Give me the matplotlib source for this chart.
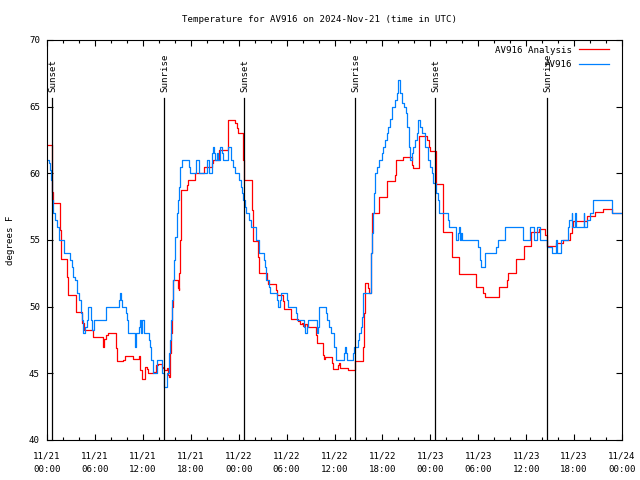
import numpy as np
import matplotlib
matplotlib.use("Agg")
import matplotlib.pyplot as plt

# ── Data (hours since 2024-11-21 00:00 UTC, degrees F) ───────────────────────
obs_hours = [0.0, 0.21, 0.38, 0.5, 0.63, 0.79, 1.04, 1.21, 1.54, 2.17, 2.88,
             3.09, 3.3, 3.5, 3.8, 4.05, 4.21, 4.38, 4.55, 4.76, 4.97, 5.18,
             5.47, 5.68, 5.89, 7.39, 8.97, 9.14, 9.27, 9.39, 9.89, 10.06,
             10.18, 11.06, 11.15, 11.48, 11.64, 11.77, 11.9, 12.15, 12.73,
             12.9, 13.06, 13.23, 13.81, 14.4, 14.65, 15.05, 15.3, 15.4, 15.53,
             15.65, 15.82, 15.95, 16.07, 16.24, 16.36, 16.49, 16.65, 16.86,
             17.82, 17.9, 18.62, 19.08, 20.0, 20.33, 20.62, 20.83, 20.95,
             21.04, 21.25, 21.45, 21.66, 21.87, 22.08, 22.62, 23.08, 23.33,
             23.54, 24.08, 24.29, 24.46, 24.58, 24.79, 24.92, 25.33, 25.51,
             26.13, 26.55, 27.21, 27.34, 27.46, 27.84, 27.96, 28.84, 28.93,
             29.18, 29.3, 30.01, 30.14, 31.14, 31.27, 32.22, 32.35, 32.52,
             32.64, 33.77, 33.89, 34.02, 34.1, 34.94, 35.1, 35.35, 35.53,
             35.94, 36.15, 37.23, 37.35, 37.47, 37.6, 38.3, 38.48, 38.98,
             39.11, 39.28, 39.4, 39.53, 39.61, 40.53, 40.61, 40.7, 40.78,
             40.95, 41.11, 41.28, 41.61, 41.9, 42.11, 42.32, 42.53, 42.74,
             42.95, 43.2, 43.58, 43.79, 43.99, 44.2, 44.49, 44.7, 44.92,
             45.04, 45.37, 45.49, 45.71, 45.87, 46.08, 46.29, 46.5, 46.71,
             46.92, 47.33, 47.75, 47.96, 48.16, 48.37, 48.71, 48.92, 49.12,
             50.17, 50.3, 51.22, 51.5, 51.6, 51.71, 51.8, 51.92, 54.0, 54.22,
             54.3, 54.85, 56.22, 56.43, 57.35, 59.56, 60.48, 60.98, 61.32,
             61.73, 62.57, 63.2, 63.74, 63.85, 64.33, 65.2, 65.4, 65.7, 65.8,
             66.1, 66.2, 67.2, 67.3, 67.6, 68.0, 68.33, 70.7, 72.0]
obs_temp = [61.0, 60.75, 60.25, 59.5, 58.0, 57.0, 56.5, 56.0, 55.0, 54.0, 53.5,
            53.0, 52.25, 52.0, 51.0, 50.5, 49.5, 49.0, 48.0, 48.5, 49.0, 50.0,
            49.0, 48.25, 49.0, 50.0, 50.5, 51.0, 50.5, 50.0, 49.5, 49.0,
            48.0, 47.0, 48.0, 48.5, 49.0, 48.0, 49.0, 48.0, 47.5,
            47.0, 46.0, 45.0, 46.0, 45.0, 44.0, 45.0, 46.5, 47.5, 49.0,
            50.5, 52.0, 53.5, 55.25, 57.0, 58.0, 59.0, 60.5, 61.0,
            60.5, 60.0, 61.0, 60.0, 61.0, 60.0, 61.5, 62.0, 61.5,
            61.0, 61.5, 61.0, 62.0, 61.5, 61.0, 62.0, 61.0, 60.5,
            60.0, 59.5, 59.0, 58.5, 58.0, 57.5, 57.0, 56.5, 56.0,
            55.0, 54.0, 53.5, 53.0, 52.0, 51.5, 51.0, 50.5, 50.0,
            50.5, 51.0, 50.5, 50.0, 49.5, 49.0, 48.5, 48.0, 48.5,
            49.0, 48.0, 48.5, 49.5, 50.0, 49.5, 49.0, 48.5, 48.0,
            47.0, 46.0, 46.5, 47.0, 46.5, 46.0, 46.5, 47.0, 47.5,
            48.0, 48.5, 49.25, 50.0, 51.0, 52.5, 54.0, 55.5, 57.0,
            58.5, 60.0, 60.5, 61.0, 61.5, 62.0, 62.5, 63.0, 63.5,
            64.1, 65.0, 65.5, 66.0, 67.0, 66.0, 65.25, 65.0, 64.5,
            63.5, 62.0, 61.0, 61.5, 62.0, 62.5, 63.0, 64.0, 63.5,
            63.0, 62.0, 61.0, 60.5, 60.0, 59.25, 58.5, 58.0, 57.0,
            56.5, 56.0, 55.0, 55.5, 56.0, 55.0, 55.5, 55.0, 54.5, 53.5,
            53.0, 54.0, 54.5, 55.0, 56.0, 55.0, 56.0, 55.0, 56.0,
            55.0, 54.5, 54.0, 55.0, 54.0, 55.0, 56.0, 56.5, 57.0, 56.0,
            57.0, 56.0, 57.0, 56.0, 56.5, 57.0, 58.0, 57.0, 57.0]

ana_hours = [0.0, 0.63, 0.71, 1.63, 1.71, 2.55, 2.67, 3.63, 4.38, 4.63, 5.72,
             7.05, 7.14, 7.39, 7.68, 8.64, 8.72, 9.56, 9.72, 10.81, 11.52,
             11.65, 11.85, 12.27, 12.48, 12.69, 13.31, 13.65, 13.86, 14.36,
             14.48, 14.65, 14.99, 15.15, 15.32, 15.4, 15.49, 15.61, 15.74,
             15.82, 16.36, 16.53, 16.57, 16.65, 16.74, 17.57, 17.7, 18.53,
             19.66, 20.62, 20.83, 21.58, 22.62, 22.7, 23.58, 23.75, 23.92,
             24.58, 24.71, 25.71, 25.75, 26.46, 26.59, 27.51, 27.72, 28.63,
             28.76, 29.59, 29.72, 30.55, 31.47, 31.68, 31.89, 32.1, 32.31,
             32.52, 32.72, 33.68, 33.77, 34.52, 34.69, 34.85, 35.65, 35.85,
             36.39, 36.52, 36.69, 37.73, 38.61, 39.61, 39.69, 39.78, 39.86,
             40.15, 40.32, 40.53, 40.65, 41.61, 42.53, 43.58, 43.7, 44.53,
             45.66, 45.79, 46.58, 47.62, 47.79, 47.96, 48.71, 48.75, 49.62,
             50.67, 51.63, 53.68, 54.64, 54.85, 56.64, 57.56, 57.77, 58.73,
             59.73, 60.61, 61.65, 62.36, 62.57, 62.65, 63.74, 64.57, 65.49,
             65.7, 65.9, 67.57, 68.62, 69.66, 70.7, 72.0]
ana_temp = [62.1, 58.6, 57.75, 55.75, 53.6, 52.25, 50.9, 49.6, 48.75, 48.25, 47.75,
            47.0, 47.6, 47.9, 48.0, 46.9, 45.9, 46.0, 46.3, 46.1, 46.3,
            45.25, 44.6, 45.5, 45.3, 45.0, 45.1, 45.6, 45.7, 45.5,
            45.4, 45.25, 45.4, 44.9, 44.7, 46.5, 48.0, 50.0, 51.5,
            52.0, 51.4, 51.25, 52.5, 55.0, 58.75, 59.1, 59.5, 60.0,
            60.5, 60.75, 61.0, 61.75, 63.0, 64.0, 63.75, 63.4, 63.0,
            61.0, 59.5, 57.25, 54.9, 53.75, 52.5, 52.0, 51.7, 51.25,
            50.9, 50.4, 49.8, 49.1, 48.9, 48.7, 48.8, 48.55, 48.7,
            48.55, 48.45, 47.9, 47.25, 46.4, 46.1, 46.2, 45.75, 45.3,
            45.6, 45.8, 45.4, 45.25, 45.9, 47.0, 49.5, 51.0, 51.8,
            51.4, 51.0, 54.0, 57.0, 58.2, 59.45, 59.9, 61.0, 61.2,
            60.6, 60.4, 62.8, 62.5, 62.0, 61.7, 60.4, 59.2, 55.6,
            53.7, 52.45, 51.45, 51.0, 50.75, 51.45, 52.0, 52.55, 53.6,
            54.55, 55.6, 55.8, 55.4, 54.8, 54.55, 54.75, 55.0, 55.55,
            56.05, 56.4, 56.8, 57.1, 57.35, 57.0, 57.0]

sun_hours  = [0.63, 14.65, 24.67, 38.57, 48.58, 62.6]
sun_labels = ["Sunset", "Sunrise", "Sunset", "Sunrise", "Sunset", "Sunrise"]

tick_hours  = list(range(0, 73, 6))
tick_labels = ["11/21\n00:00", "11/21\n06:00", "11/21\n12:00", "11/21\n18:00",
               "11/22\n00:00", "11/22\n06:00", "11/22\n12:00", "11/22\n18:00",
               "11/23\n00:00", "11/23\n06:00", "11/23\n12:00", "11/23\n18:00",
               "11/24\n00:00"]

# ── Plot ─────────────────────────────────────────────────────────────────────
plt.rcParams["font.family"] = "DejaVu Sans Mono"
plt.rcParams["font.size"] = 6.6

fig = plt.figure(figsize=(6.4, 4.8), dpi=100)
ax = fig.add_axes([47 / 640, 40 / 480, 575 / 640, 400 / 480])

ax.plot(ana_hours, ana_temp, drawstyle="steps-post", color="#ff0000",
        lw=0.9, label="AV916 Analysis")
ax.plot(obs_hours, obs_temp, drawstyle="steps-post", color="#0080ff",
        lw=0.9, label="AV916")

for h, lab in zip(sun_hours, sun_labels):
    ax.plot([h, h], [40, 65.65], color="black", lw=0.9)
    ax.text(h + 0.12, 66.1, lab, rotation=90, ha="center", va="bottom")

ax.set_xlim(0, 72)
ax.set_ylim(40, 70)
ax.set_xticks(tick_hours)
ax.set_xticklabels(tick_labels, linespacing=1.75)
ax.set_xticks(np.arange(0, 73, 2), minor=True)
ax.set_yticks(range(40, 71, 5))
ax.tick_params(which="both", direction="in", top=True, right=True, width=0.8)
ax.tick_params(which="major", length=4)
ax.tick_params(which="minor", length=2)
ax.tick_params(axis="x", pad=8)
ax.tick_params(axis="y", pad=5)
for s in ax.spines.values():
    s.set_linewidth(0.8)

ax.set_ylabel("degrees F", labelpad=10)
fig.text(0.5, 1 - 19 / 480, "Temperature for AV916 on 2024-Nov-21 (time in UTC)",
         ha="center", va="center")

ax.legend(loc="upper right", bbox_to_anchor=(0.993, 1.009), frameon=False,
          markerfirst=False, handlelength=3.3, handletextpad=0.7,
          labelspacing=0.58, borderaxespad=0.6)

fig.savefig("out.png", dpi=100, facecolor="white")
